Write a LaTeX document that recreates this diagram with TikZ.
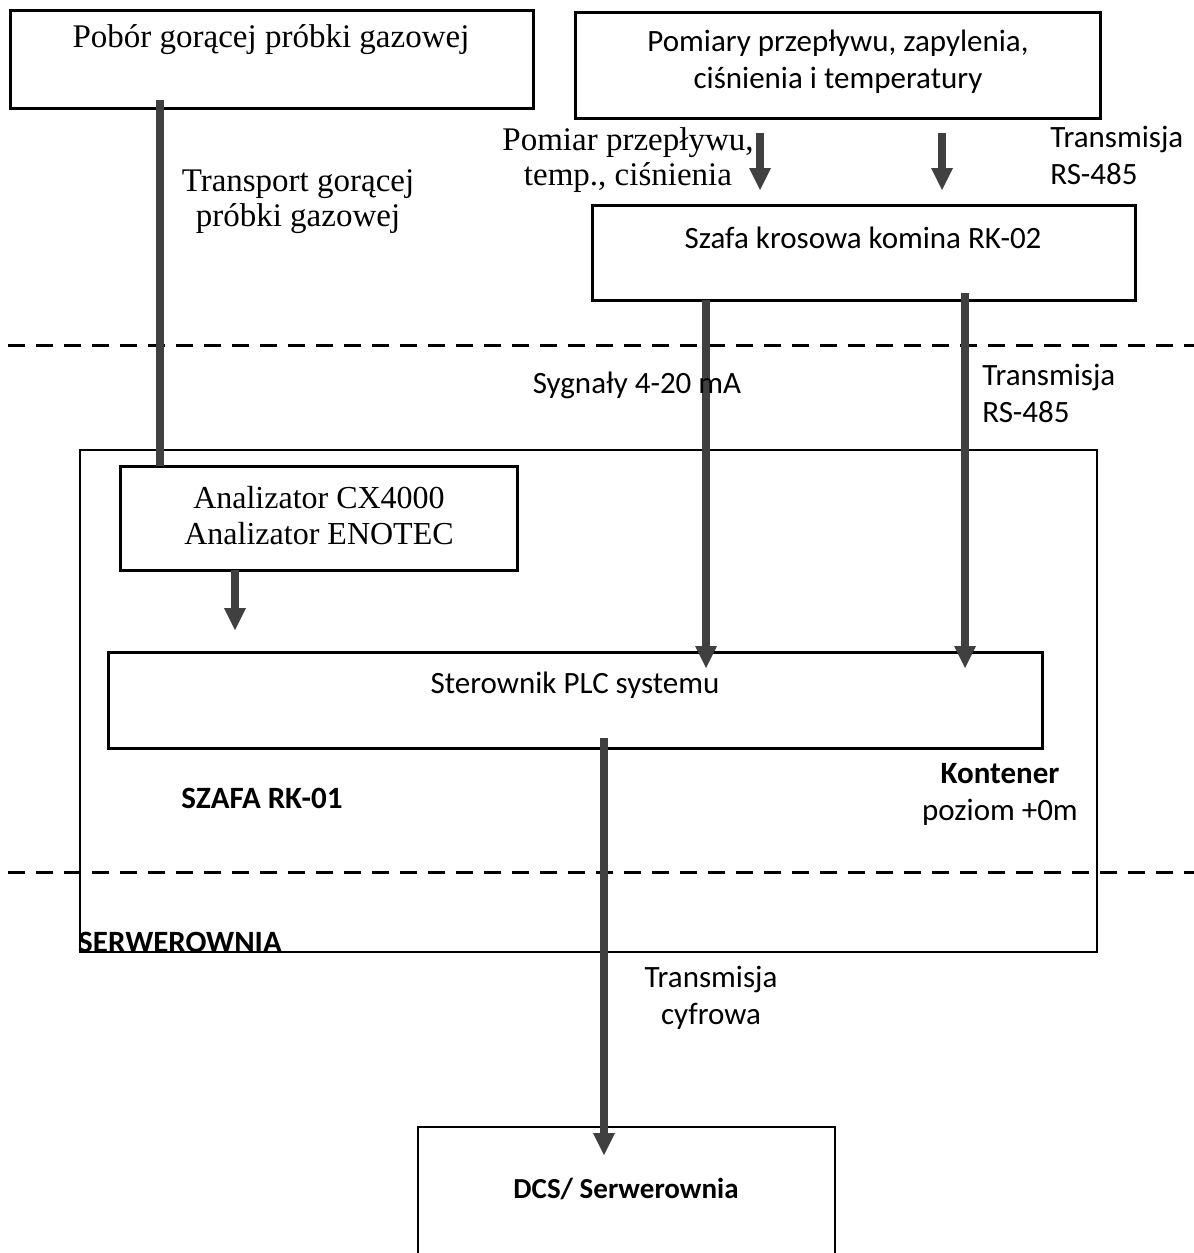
\documentclass[tikz,border=0pt]{standalone}
\usepackage{fontspec}
\setmainfont{Carlito}
\newfontfamily\serifpl{Liberation Serif}
\usetikzlibrary{arrows.meta, positioning, calc}

\begin{document}
\begin{tikzpicture}[x=0.5pt, y=-0.5pt]
  \useasboundingbox (0,0) rectangle (1194,1253);

  % --- Styles ---
  \tikzset{
    box/.style={draw, line width=1.5pt, anchor=north west, inner sep=0pt, outer sep=0pt},
    thin box/.style={draw, line width=0.8pt, anchor=north west, inner sep=0pt, outer sep=0pt},
    pipe/.style={line width=4.2pt, draw=black!75},
    flow/.style={pipe, -{Triangle[width=11pt, length=11pt, line width=0pt]}},
    zone line/.style={line width=1.5pt, dash pattern=on 8.5pt off 5.5pt},
    sans label/.style={font=\fontsize{15.5}{18.5}\selectfont, align=center, inner sep=0pt},
    serif label/.style={font=\serifpl\fontsize{16.5}{17.5}\selectfont, align=center, inner sep=0pt},
    bold label/.style={font=\bfseries\fontsize{15.5}{18.5}\selectfont, align=center, inner sep=0pt}
  }

  % --- Columns of the connectors ---
  \coordinate (cT) at (160,0);
  \coordinate (cA) at (235,0);
  \coordinate (cP) at (760,0);
  \coordinate (cR) at (942,0);
  \coordinate (cS) at (706,0);
  \coordinate (cQ) at (965,0);
  \coordinate (cD) at (604,0);

  % --- Zones ---
  \draw[zone line] (8,345) -- (1194,345);
  \draw[zone line] (8,872) -- (1194,872);
  \node[thin box, minimum width=508.5pt, minimum height=251pt] (kontener) at (80,450) {};

  % --- Boxes ---
  \node[box, minimum width=261.5pt, minimum height=49pt] (pobor) at (10,10) {};
  \node[box, minimum width=262.5pt, minimum height=53pt] (pomiary) at (575,12) {};
  \node[box, minimum width=271.5pt, minimum height=47.5pt] (szafa) at (592,205) {};
  \node[box, minimum width=198.5pt, minimum height=52pt] (anal) at (120,466) {};
  \node[box, minimum width=467pt, minimum height=48pt] (plc) at (108,652) {};
  \node[thin box, minimum width=208.5pt, minimum height=70pt] (dcs) at (418,1127) {};

  % --- Texts in the boxes ---
  \node[serif label] (poborT) at (271,40) {Pobór gorącej próbki gazowej};
  \node[sans label] (pomiaryT) at (838,62) {Pomiary przepływu, zapylenia,\\ciśnienia i temperatury};
  \node[sans label] (szafaT) at (863,238) {Szafa krosowa komina RK-02};
  \node[serif label, font=\serifpl\fontsize{16}{18}\selectfont] (analT) at (319,516) {Analizator CX4000\\Analizator ENOTEC};
  \node[sans label] (plcT) at (575,685) {Sterownik PLC systemu};
  \node[bold label, font=\bfseries\fontsize{14.5}{17}\selectfont] (dcsT) at (626,1189) {DCS/ Serwerownia};

  % --- Connectors ---
  \draw[pipe] ([yshift=4pt]cT |- pobor.south) -- (cT |- anal.north);
  \draw[flow, shorten <=7.5pt, shorten >=7.5pt] (cP |- pomiary.south) -- (cP |- szafa.north);
  \draw[flow, shorten <=7.5pt, shorten >=7.5pt] (cR |- pomiary.south) -- (cR |- szafa.north);
  \draw[flow, shorten >=-8pt] (cS |- szafa.south) -- (cS |- plc.north);
  \draw[flow, shorten >=-8pt] ([yshift=3.5pt]cQ |- szafa.south) -- (cQ |- plc.north);
  \draw[flow, shorten >=11pt] (cA |- anal.south) -- (cA |- plc.north);
  \draw[flow, shorten >=-14pt] ([yshift=5pt]cD |- plc.south) -- (cD |- dcs.north);

  % --- Labels ---
  \node[serif label] (transportT) at (298,202) {Transport gorącej\\próbki gazowej};
  \node[serif label] (pomiarT) at (628,160) {Pomiar przepływu,\\temp., ciśnienia};
  \node[sans label, anchor=west, align=left] (rsTopT) at (1050,155) {Transmisja\\RS-485};
  \node[sans label] (sygnalyT) at (637,385) {Sygnały 4-20 mA};
  \node[sans label, anchor=west, align=left] (rsMidT) at (982,393) {Transmisja\\RS-485};
  \node[bold label] (szafaRkT) at (262,798) {SZAFA RK-01};
  \node[sans label] (kontenerT) at (1000,794) {\textbf{Kontener}\\poziom +0m};
  \node[bold label] (serwT) at (180,942) {SERWEROWNIA};
  \node[sans label] (cyfrowaT) at (711,998) {Transmisja\\cyfrowa};
\end{tikzpicture}
\end{document}
